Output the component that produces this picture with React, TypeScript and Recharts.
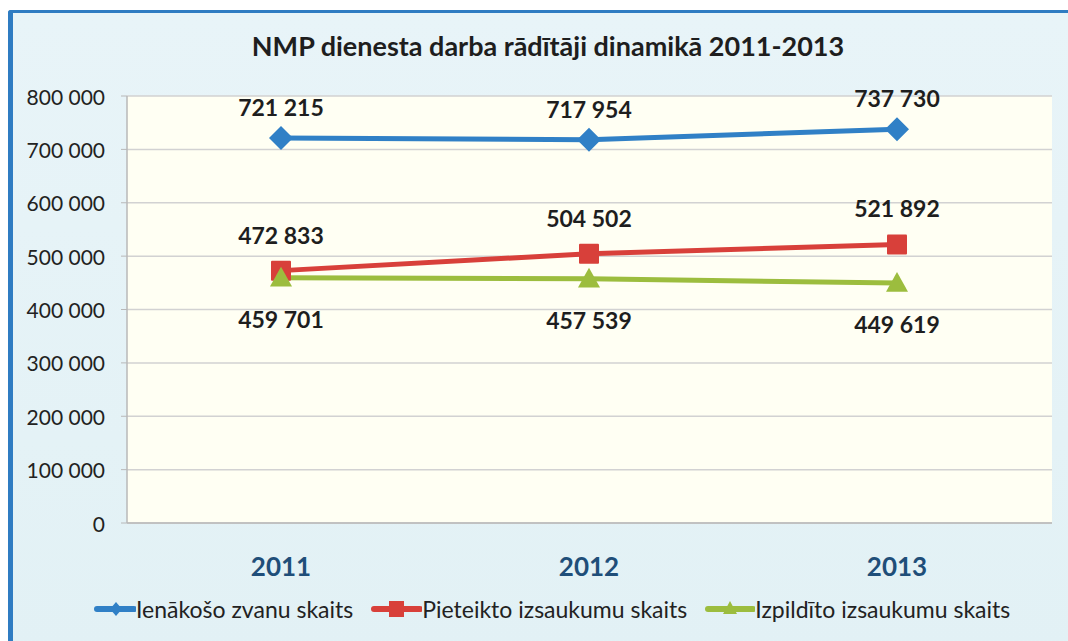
import React from "react";
import { LineChart, Line, XAxis, YAxis, CartesianGrid, Legend, LabelList } from "recharts";

const years = ["2011", "2012", "2013"];
const incomingCalls = [721215, 717954, 737730];
const registeredCalls = [472833, 504502, 521892];
const completedCalls = [459701, 457539, 449619];
const yTicks = [0, 100000, 200000, 300000, 400000, 500000, 600000, 700000, 800000];

const seriesKeys = ["incoming", "registered", "completed"];
const seriesNames = ["Ienākošo zvanu skaits", "Pieteikto izsaukumu skaits", "Izpildīto izsaukumu skaits"];
const BLUE = "#3080c6";
const RED = "#d8403a";
const GREEN = "#9cbd3e";
const seriesColors = [BLUE, RED, GREEN];
const FONT = "Lato, 'Open Sans', sans-serif";

const data = years.map((y, i) => ({
  year: y,
  incoming: incomingCalls[i],
  registered: registeredCalls[i],
  completed: completedCalls[i],
}));

const fmt = (v: number) => {
  if (v === 0) return "0";
  const s = String(Math.round(v));
  return s.replace(/\B(?=(\d{3})+(?!\d))/g, " ");
};

const Diamond = (props: any) => {
  const { cx, cy } = props;
  if (cx == null || cy == null) return null;
  const r = 12;
  return <path d={`M${cx},${cy - r} L${cx + r},${cy} L${cx},${cy + r} L${cx - r},${cy} Z`} fill={BLUE} />;
};
const Square = (props: any) => {
  const { cx, cy } = props;
  if (cx == null || cy == null) return null;
  const r = 10;
  return <rect x={cx - r} y={cy - r} width={2 * r} height={2 * r} fill={RED} rx={1} />;
};
const Triangle = (props: any) => {
  const { cx, cy } = props;
  if (cx == null || cy == null) return null;
  const r = 11;
  return <path d={`M${cx},${cy - r} L${cx + r},${cy + r * 0.8} L${cx - r},${cy + r * 0.8} Z`} fill={GREEN} />;
};

const makeLabel = (dy: number) => (props: any) => {
  const { x, y, value } = props;
  return (
    <text
      x={x}
      y={y + dy}
      textAnchor="middle"
      dominantBaseline="central"
      fontFamily={FONT}
      fontWeight={700}
      fontSize={23}
      fill="#1e1e1e"
    >
      {fmt(value)}
    </text>
  );
};

const XTick = (props: any) => {
  const { x, y, payload } = props;
  return (
    <text x={x} y={y + 35} textAnchor="middle" dominantBaseline="central" fontFamily={FONT} fontWeight={700} fontSize={26} fill="#1f4e79">
      {payload.value}
    </text>
  );
};

const YTick = (props: any) => {
  const { x, y, payload } = props;
  return (
    <text x={x - 14} y={y} textAnchor="end" dominantBaseline="central" fontFamily={FONT} fontSize={21} fill="#222">
      {fmt(payload.value)}
    </text>
  );
};

const legendIcons = [
  (c: string) => (
    <svg width={42} height={20} style={{ display: "block" }}>
      <line x1={3} y1={10} x2={40} y2={10} stroke={c} strokeWidth={6} strokeLinecap="round" />
      <path d="M22,3 L28,10 L22,17 L16,10 Z" fill={c} />
    </svg>
  ),
  (c: string) => (
    <svg width={51} height={20} style={{ display: "block" }}>
      <line x1={3} y1={10} x2={49} y2={10} stroke={c} strokeWidth={6} strokeLinecap="round" />
      <rect x={18} y={2} width={15} height={16} fill={c} />
    </svg>
  ),
  (c: string) => (
    <svg width={50} height={20} style={{ display: "block" }}>
      <line x1={3} y1={10} x2={48} y2={10} stroke={c} strokeWidth={6} strokeLinecap="round" />
      <path d="M25,2 L32,15 L18,15 Z" fill={c} />
    </svg>
  ),
];

const LegendContent = () => {
  return (
    <div style={{ height: 40, display: "flex", alignItems: "center", justifyContent: "flex-start", paddingLeft: 94, fontFamily: FONT, fontSize: 23, color: "#222" }}>
      {seriesKeys.map((k, i) => (
        <div key={k} style={{ display: "flex", alignItems: "center", marginRight: 18 }}>
          {legendIcons[i](seriesColors[i])}
          <span>{seriesNames[i]}</span>
        </div>
      ))}
    </div>
  );
};

export default function App() {
  return (
    <div style={{ position: "absolute", left: 0, top: 0, width: 1068, height: 641, background: "#ffffff", overflow: "hidden" }}>
      <div
        style={{
          position: "absolute",
          left: 8,
          top: 10,
          width: 1080,
          height: 640,
          background: "linear-gradient(180deg, #e8f4f8 0%, #e2f1f5 100%)",
          borderLeft: "5px solid #2f7cc2",
          borderTop: "3px solid #2f7cc2",
          borderTopLeftRadius: 3,
          boxSizing: "border-box",
        }}
      />
      <div
        style={{
          position: "absolute",
          left: 0,
          top: 29,
          width: 1096,
          textAlign: "center",
          fontFamily: FONT,
          fontWeight: 700,
          fontSize: 27,
          color: "#1e1e1e",
        }}
      >
        NMP dienesta darba rādītāji dinamikā 2011-2013
      </div>
      <div style={{ position: "absolute", left: 0, top: 0 }}>
        <LineChart width={1068} height={641} data={data} margin={{ top: 96, right: 16, left: 0, bottom: 12 }}>
          <CartesianGrid vertical={false} stroke="#d2d2d2" strokeWidth={1.5} fill="#fffff3" />
          <XAxis
            dataKey="year"
            height={66}
            padding={{ left: 154, right: 155 }}
            tick={<XTick />}
            tickLine={false}
            axisLine={{ stroke: "#b8b8b8", strokeWidth: 1.5 }}
            interval={0}
          />
          <YAxis
            width={127}
            domain={[0, 800000]}
            ticks={yTicks}
            tick={<YTick />}
            tickSize={6}
            tickLine={{ stroke: "#b8b8b8" }}
            axisLine={{ stroke: "#b8b8b8", strokeWidth: 1.5 }}
            interval={0}
          />
          <Legend verticalAlign="bottom" content={<LegendContent />} />
          <Line
            name={seriesNames[0]}
            dataKey="incoming"
            stroke={BLUE}
            strokeWidth={5}
            dot={<Diamond />}
            activeDot={false}
            isAnimationActive={false}
          >
            <LabelList dataKey="incoming" content={makeLabel(-31)} />
          </Line>
          <Line
            name={seriesNames[1]}
            dataKey="registered"
            stroke={RED}
            strokeWidth={5}
            dot={<Square />}
            activeDot={false}
            isAnimationActive={false}
          >
            <LabelList dataKey="registered" content={makeLabel(-36)} />
          </Line>
          <Line
            name={seriesNames[2]}
            dataKey="completed"
            stroke={GREEN}
            strokeWidth={5}
            dot={<Triangle />}
            activeDot={false}
            isAnimationActive={false}
          >
            <LabelList dataKey="completed" content={makeLabel(41)} />
          </Line>
        </LineChart>
      </div>
    </div>
  );
}
